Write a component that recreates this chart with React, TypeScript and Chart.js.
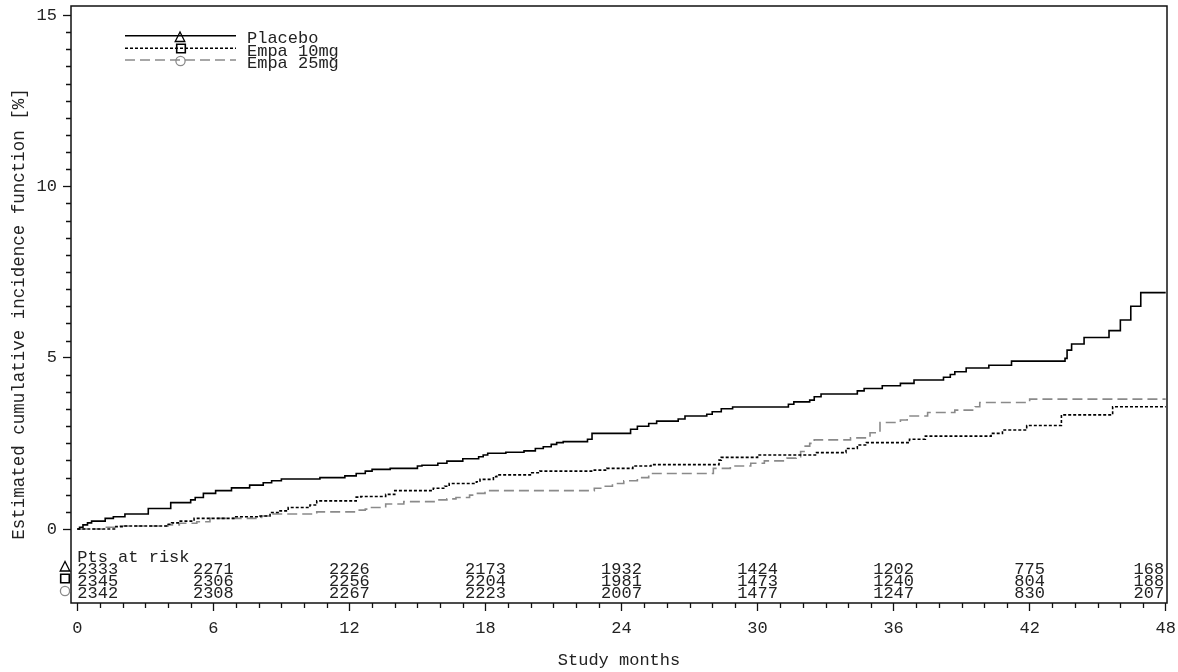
import { useEffect, useRef } from 'react';
import { Chart, registerables } from 'chart.js';

Chart.register(...registerables);

// ---- data ----
const placeboMonths = [0, 0.1, 0.25, 0.45, 0.63, 1.23, 1.59, 2.1, 3.13, 4.12, 5.0, 5.2, 5.56, 6.1, 6.8, 7.6, 8.2, 8.57, 9.0, 10.7, 11.8, 12.3, 12.7, 13.0, 13.8, 15.0, 15.2, 15.9, 16.3, 17.0, 17.7, 17.9, 18.1, 18.9, 19.7, 20.2, 20.55, 20.9, 21.14, 21.43, 22.5, 22.7, 24.4, 24.7, 25.2, 25.55, 26.5, 26.8, 27.76, 28.0, 28.4, 28.9, 31.36, 31.6, 32.3, 32.5, 32.8, 34.4, 34.7, 35.5, 36.3, 36.9, 38.2, 38.5, 38.7, 39.2, 40.2, 41.2, 43.56, 43.65, 43.85, 44.4, 45.5, 46.0, 46.46, 46.9, 48.0];
const placeboPct = [0, 0.05, 0.12, 0.18, 0.23, 0.31, 0.36, 0.44, 0.6, 0.77, 0.85, 0.92, 1.04, 1.12, 1.2, 1.28, 1.35, 1.41, 1.46, 1.5, 1.55, 1.62, 1.69, 1.74, 1.77, 1.84, 1.86, 1.92, 1.98, 2.05, 2.11, 2.16, 2.21, 2.24, 2.28, 2.35, 2.4, 2.47, 2.52, 2.55, 2.62, 2.79, 2.91, 3.0, 3.08, 3.15, 3.21, 3.3, 3.35, 3.42, 3.51, 3.56, 3.64, 3.71, 3.76, 3.86, 3.94, 4.03, 4.1, 4.18, 4.25, 4.35, 4.43, 4.51, 4.59, 4.7, 4.78, 4.9, 4.98, 5.22, 5.4, 5.59, 5.79, 6.1, 6.5, 6.9, 6.9];

const empa10Months = [0, 1.7, 2.03, 3.94, 4.16, 4.45, 5.15, 6.9, 8.06, 8.5, 8.94, 9.3, 10.26, 10.56, 12.3, 12.5, 13.6, 14.0, 15.7, 16.2, 16.4, 17.6, 17.76, 18.35, 18.5, 20.04, 20.4, 22.8, 23.35, 24.5, 25.3, 28.3, 28.4, 30.0, 32.6, 33.9, 34.4, 34.8, 36.7, 37.4, 40.3, 40.8, 41.87, 43.4, 45.66, 48.0];
const empa10Pct = [0, 0.07, 0.09, 0.14, 0.18, 0.23, 0.31, 0.36, 0.38, 0.48, 0.53, 0.63, 0.7, 0.82, 0.93, 0.95, 1.01, 1.12, 1.19, 1.25, 1.33, 1.38, 1.45, 1.53, 1.58, 1.64, 1.69, 1.72, 1.77, 1.84, 1.88, 2.01, 2.09, 2.16, 2.23, 2.35, 2.45, 2.52, 2.62, 2.71, 2.79, 2.89, 3.02, 3.33, 3.57, 3.57];

const empa25Months = [0, 1.1, 1.9, 4.0, 4.5, 5.27, 5.85, 8.13, 8.5, 10.56, 12.3, 12.7, 12.9, 13.6, 14.4, 15.8, 16.3, 16.7, 17.3, 17.6, 17.98, 22.8, 23.2, 23.6, 24.1, 24.7, 25.2, 28.05, 28.8, 29.7, 30.3, 31.3, 31.7, 31.9, 32.1, 32.3, 32.5, 34.1, 34.96, 35.4, 36.3, 36.6, 37.5, 38.7, 39.6, 39.8, 42.0, 48.0];
const empa25Pct = [0, 0.05, 0.09, 0.12, 0.17, 0.21, 0.31, 0.38, 0.44, 0.5, 0.55, 0.58, 0.63, 0.73, 0.8, 0.85, 0.88, 0.92, 0.99, 1.04, 1.12, 1.19, 1.25, 1.33, 1.41, 1.5, 1.62, 1.77, 1.84, 1.92, 1.99, 2.07, 2.11, 2.26, 2.42, 2.5, 2.6, 2.66, 2.81, 3.11, 3.18, 3.3, 3.4, 3.47, 3.57, 3.69, 3.79, 3.79];

const seriesLabels = ['Placebo', 'Empa 10mg', 'Empa 25mg'];

const xTickValues = [0, 6, 12, 18, 24, 30, 36, 42, 48];
const yTickValues = [0, 5, 10, 15];

const riskMonths = [0, 6, 12, 18, 24, 30, 36, 42, 48];
const riskPlacebo = [2333, 2271, 2226, 2173, 1932, 1424, 1202, 775, 168];
const riskEmpa10 = [2345, 2306, 2256, 2204, 1981, 1473, 1240, 804, 188];
const riskEmpa25 = [2342, 2308, 2267, 2223, 2007, 1477, 1247, 830, 207];

const xTitle = 'Study months';
const yTitle = 'Estimated cumulative incidence function [%]';
const riskTitle = 'Pts at risk';

// ---- style ----
const FONT = 'Liberation Mono';
const TEXT = '#222';
const GRAY = '#8a8a8a';

type Marker = 'triangle' | 'square' | 'circle';
const markers: Marker[] = ['triangle', 'square', 'circle'];

function drawMarker(ctx: CanvasRenderingContext2D, kind: Marker, cx: number, cy: number, color: string) {
  ctx.save();
  ctx.setLineDash([]);
  ctx.strokeStyle = color;
  ctx.lineWidth = 1.3;
  ctx.beginPath();
  if (kind === 'triangle') {
    ctx.moveTo(cx, cy - 5);
    ctx.lineTo(cx - 4.8, cy + 4.5);
    ctx.lineTo(cx + 4.8, cy + 4.5);
    ctx.closePath();
  } else if (kind === 'square') {
    ctx.lineWidth = 1.6;
    ctx.rect(cx - 4.3, cy - 4.3, 8.6, 8.6);
  } else {
    ctx.arc(cx, cy, 4.6, 0, Math.PI * 2);
  }
  ctx.stroke();
  ctx.restore();
}

const overlay = {
  id: 'overlay',
  afterDraw(chart: any) {
    const ctx: CanvasRenderingContext2D = chart.ctx;
    const { left, right, top, bottom } = chart.chartArea;
    const xs = chart.scales.x;
    const ys = chart.scales.y;
    ctx.save();

    // frame
    ctx.strokeStyle = '#111';
    ctx.lineWidth = 1.5;
    ctx.strokeRect(left, top, right - left, bottom - top);

    // minor ticks
    ctx.beginPath();
    for (let m = 0; m <= 48; m++) {
      if (m % 6 === 0) continue;
      const px = Math.round(xs.getPixelForValue(m)) + 0.5;
      ctx.moveTo(px, bottom);
      ctx.lineTo(px, bottom + 5);
    }
    for (let k = 0; k <= 30; k++) {
      if (k % 10 === 0) continue;
      const py = Math.round(ys.getPixelForValue(k / 2)) + 0.5;
      ctx.moveTo(left, py);
      ctx.lineTo(left - 5, py);
    }
    ctx.lineWidth = 1.3;
    ctx.stroke();

    // legend
    const ds = chart.data.datasets;
    const legY = [35.7, 48.3, 60];
    const mkX = [180, 181, 180.5];
    const mkY = [37, 48.5, 61];
    for (let i = 0; i < 3; i++) {
      const d = ds[i];
      ctx.save();
      ctx.strokeStyle = d.borderColor;
      ctx.lineWidth = d.borderWidth;
      ctx.setLineDash(d.borderDash || []);
      ctx.beginPath();
      ctx.moveTo(125, legY[i]);
      ctx.lineTo(236, legY[i]);
      ctx.stroke();
      ctx.restore();
      drawMarker(ctx, markers[i], mkX[i], mkY[i], i === 2 ? GRAY : '#000');
      ctx.fillStyle = TEXT;
      ctx.font = `17px "${FONT}"`;
      ctx.textAlign = 'left';
      ctx.textBaseline = 'alphabetic';
      ctx.fillText(seriesLabels[i], 247, legY[i] + 7.5);
    }

    // at-risk table
    ctx.fillStyle = TEXT;
    ctx.font = `17px "${FONT}"`;
    ctx.textBaseline = 'alphabetic';
    const x0 = xs.getPixelForValue(0);
    ctx.textAlign = 'left';
    ctx.fillText(riskTitle, x0, 561.7);
    const rows = [riskPlacebo, riskEmpa10, riskEmpa25];
    const rowBase = [573.5, 585.8, 598];
    rows.forEach((row, r) => {
      row.forEach((n, j) => {
        const m = riskMonths[j];
        let px = xs.getPixelForValue(m);
        if (m === 0) ctx.textAlign = 'left';
        else if (m === 48) { ctx.textAlign = 'right'; px -= 1.5; }
        else ctx.textAlign = 'center';
        ctx.fillText(String(n), px, rowBase[r]);
      });
    });
    const rmY = [566.5, 578.5, 591];
    for (let i = 0; i < 3; i++) drawMarker(ctx, markers[i], 65, rmY[i], i === 2 ? GRAY : '#000');

    // axis titles
    ctx.font = `17px "${FONT}"`;
    ctx.textAlign = 'center';
    ctx.fillText(xTitle, (left + right) / 2, 665);
    ctx.save();
    ctx.translate(23.5, 314);
    ctx.rotate(-Math.PI / 2);
    ctx.font = `17.5px "${FONT}"`;
    ctx.textAlign = 'center';
    ctx.textBaseline = 'alphabetic';
    ctx.fillText(yTitle, 0, 0);
    ctx.restore();

    ctx.restore();
  },
};

export default function App() {
  const ref = useRef<HTMLCanvasElement>(null);
  useEffect(() => {
    document.body.style.margin = '0';
    document.body.style.overflow = 'hidden';
    const pts = (t: number[], v: number[]) => t.map((x, i) => ({ x, y: v[i] }));
    const chart = new Chart(ref.current as HTMLCanvasElement, {
      type: 'line',
      data: {
        datasets: [
          { label: seriesLabels[0], data: pts(placeboMonths, placeboPct), borderColor: '#000', borderWidth: 1.6, stepped: true, pointRadius: 0, fill: false },
          { label: seriesLabels[1], data: pts(empa10Months, empa10Pct), borderColor: '#000', borderWidth: 1.6, borderDash: [3, 2], stepped: true, pointRadius: 0, fill: false },
          { label: seriesLabels[2], data: pts(empa25Months, empa25Pct), borderColor: GRAY, borderWidth: 1.6, borderDash: [10, 5], stepped: true, pointRadius: 0, fill: false },
        ] as any,
      },
      options: {
        animation: false,
        responsive: true,
        maintainAspectRatio: false,
        layout: { padding: { top: 6, right: 11, left: 0, bottom: 0 } },
        plugins: { legend: { display: false }, tooltip: { enabled: false } },
        scales: {
          x: {
            type: 'linear',
            min: -0.278,
            max: 48.057,
            afterBuildTicks: (s: any) => { s.ticks = xTickValues.map((v) => ({ value: v })); },
            afterFit: (s: any) => { s.height = 69; s.paddingLeft = 0; s.paddingRight = 0; },
            ticks: { font: { family: FONT, size: 17 }, color: TEXT, padding: 7, maxRotation: 0, autoSkip: false },
            grid: { drawOnChartArea: false, drawTicks: true, tickLength: 8, tickColor: '#111', tickWidth: 1.3 },
            border: { display: false },
          },
          y: {
            type: 'linear',
            min: -2.159,
            max: 15.263,
            afterBuildTicks: (s: any) => { s.ticks = yTickValues.map((v) => ({ value: v })); },
            afterFit: (s: any) => { s.width = 71; s.paddingTop = 0; s.paddingBottom = 0; },
            ticks: { font: { family: FONT, size: 17 }, color: TEXT, padding: 6, autoSkip: false },
            grid: { drawOnChartArea: false, drawTicks: true, tickLength: 8, tickColor: '#111', tickWidth: 1.3 },
            border: { display: false },
          },
        },
      } as any,
      plugins: [overlay],
    });
    return () => chart.destroy();
  }, []);
  return (
    <div style={{ position: 'relative', width: 1178, height: 672 }}>
      <canvas ref={ref} />
    </div>
  );
}
